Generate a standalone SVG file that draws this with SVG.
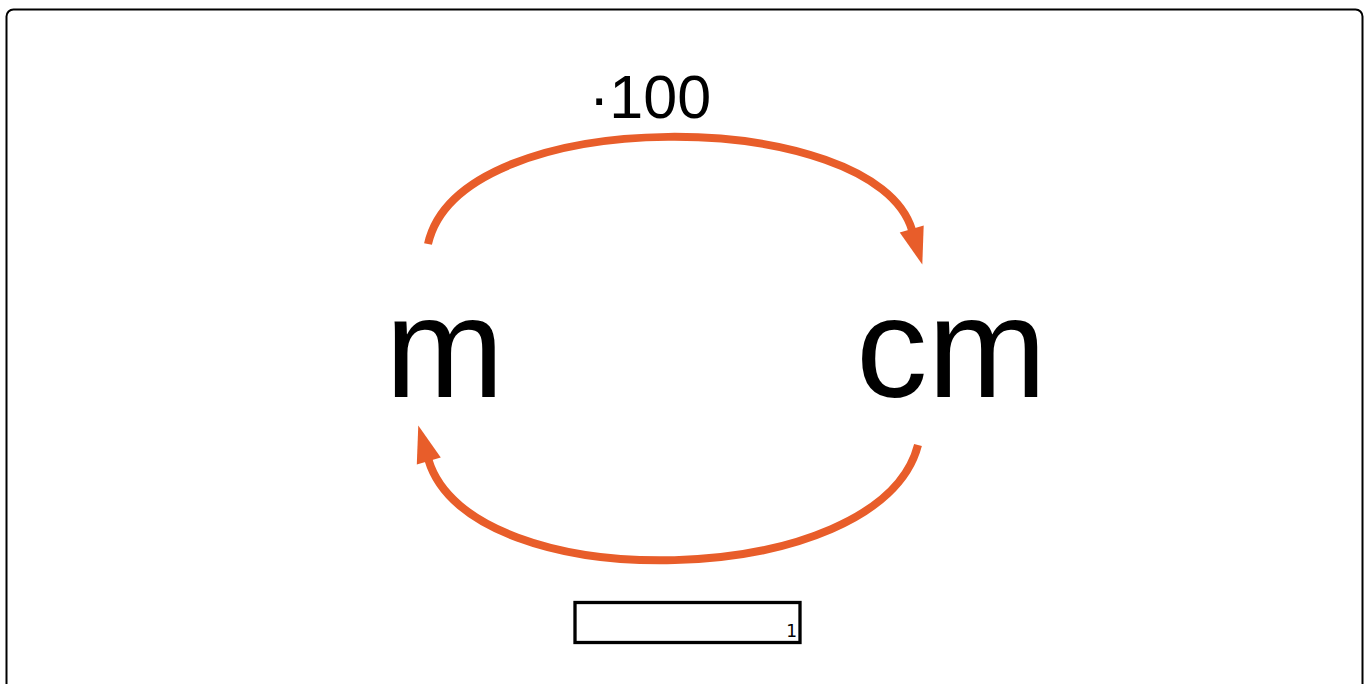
<svg xmlns="http://www.w3.org/2000/svg" width="1368" height="684" viewBox="0 0 1368 684">
<style>
.big{font-family:"Liberation Sans",Arial,sans-serif;fill:#000}
.arc{fill:none;stroke:#E85D2A;stroke-width:8}
</style>
<defs>
<marker id="ah" markerUnits="userSpaceOnUse" markerWidth="40" markerHeight="30" viewBox="-2 -15 40 30" refX="0" refY="0" orient="auto">
<path d="M-1,-12.5 L36,0 L-1,12.5 z" fill="#E85D2A"/>
</marker>
</defs>
<rect x="0" y="0" width="1368" height="684" fill="#fff"/>
<rect x="6.5" y="9.5" width="1356" height="700" rx="7" fill="none" stroke="#000" stroke-width="2"/>
<g id="connectors">
<path class="arc" d="M428,244 C460,101 875,106 912,230" marker-end="url(#ah)"/>
<path class="arc" d="M918,445 C880,592 470,600 428.5,460" marker-end="url(#ah)"/>
</g>
<g id="label-top">
<text class="big" x="589" y="118" font-size="61">·100</text>
</g>
<g id="node-m">
<text class="big" x="385" y="397" font-size="143">m</text>
</g>
<g id="node-cm">
<text class="big" x="856" y="397" font-size="143">cm</text>
</g>
<g id="box">
<rect x="575" y="602.5" width="225" height="40" fill="none" stroke="#000" stroke-width="3.3"/>
<text x="797" y="637" font-size="17" text-anchor="end" font-family="'DejaVu Sans',sans-serif" fill="#000">1</text>
</g>
</svg>
